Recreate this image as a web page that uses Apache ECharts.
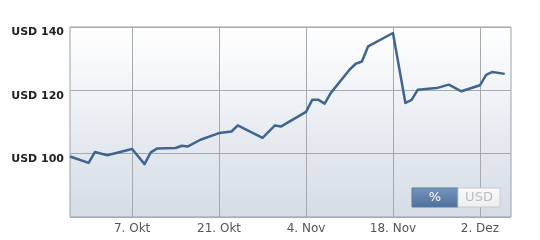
<!DOCTYPE html>
<html>
<head>
<meta charset="utf-8">
<script src="https://cdn.jsdelivr.net/npm/echarts@6/dist/echarts.min.js"></script>
<style>
html,body{margin:0;padding:0;background:#fff;}
#c{width:540px;height:240px;}
</style>
</head>
<body>
<div id="c"></div>
<script>
// Data
var dates = ['2013-09-27','2013-09-30','2013-10-01','2013-10-03','2013-10-07','2013-10-09','2013-10-10','2013-10-11','2013-10-14','2013-10-15','2013-10-16','2013-10-18','2013-10-21','2013-10-23','2013-10-24','2013-10-28','2013-10-30','2013-10-31','2013-11-04','2013-11-05','2013-11-06','2013-11-07','2013-11-08','2013-11-11','2013-11-12','2013-11-13','2013-11-14','2013-11-18','2013-11-20','2013-11-21','2013-11-22','2013-11-25','2013-11-27','2013-11-29','2013-12-02','2013-12-03','2013-12-04','2013-12-06'];
var values = [99.1,97.1,100.5,99.5,101.5,96.7,100.4,101.6,101.8,102.5,102.3,104.4,106.5,107.0,108.9,105.0,108.9,108.6,113.2,117.0,117.0,115.8,119.2,126.5,128.4,129.1,133.9,138.1,116.0,117.0,120.2,120.7,121.8,119.7,121.6,124.9,125.8,125.2];
var tickDates = ['2013-10-07','2013-10-21','2013-11-04','2013-11-18','2013-12-02'];
var tickLabels = ['7. Okt','21. Okt','4. Nov','18. Nov','2. Dez'];
var yTicks = [100, 120, 140];

// calendar-day categories for the x axis (27 Sep .. 7 Dec 2013)
var categories = [];
for (var i = 0; i <= 71; i++) {
  categories.push(new Date(Date.UTC(2013, 8, 27 + i)).toISOString().slice(0, 10));
}
var seriesData = dates.map(function (d, k) { return [d, values[k]]; });

function isTick(index, value) { return tickDates.indexOf(value) >= 0; }

var chart = echarts.init(document.getElementById('c'), null, {renderer: 'canvas'});
chart.setOption({
  animation: false,
  grid: {
    left: 70, right: 29, top: 27, bottom: 23,
    show: true,
    borderColor: '#9ba1a8', borderWidth: 1,
    backgroundColor: {
      type: 'linear', x: 0, y: 0, x2: 0, y2: 1,
      colorStops: [{offset: 0, color: '#ffffff'}, {offset: 1, color: '#d5dce6'}]
    }
  },
  xAxis: {
    type: 'category',
    data: categories,
    boundaryGap: false,
    axisLine: {show: false},
    axisTick: {show: false},
    axisLabel: {
      interval: isTick,
      formatter: function (v) { return tickLabels[tickDates.indexOf(v)]; },
      color: '#555', fontFamily: 'DejaVu Sans', fontSize: 12, margin: 6
    },
    splitLine: {show: true, interval: isTick, lineStyle: {color: '#a6a9ae', width: 1}}
  },
  yAxis: {
    type: 'value',
    min: 80, max: 140, interval: 20,
    axisLine: {show: false},
    axisTick: {show: false},
    axisLabel: {
      formatter: function (v) { return yTicks.indexOf(v) >= 0 ? 'USD ' + v : ''; },
      color: '#222', fontFamily: 'DejaVu Sans', fontWeight: 'bold', fontSize: 11,
      verticalAlign: 'top', margin: 6
    },
    splitLine: {show: true, lineStyle: {color: '#a6a9ae', width: 1}}
  },
  series: [{
    type: 'line',
    data: seriesData,
    symbol: 'none',
    lineStyle: {color: '#3f6591', width: 2.5, join: 'round'},
    z: 3
  }],
  graphic: [
    {
      type: 'rect', z: 10,
      shape: {x: 412, y: 188, width: 46, height: 19},
      style: {
        fill: {type: 'linear', x: 0, y: 0, x2: 0, y2: 1,
          colorStops: [{offset: 0, color: '#7895bb'}, {offset: 1, color: '#4d6f9a'}]},
        stroke: '#5a7aa3', lineWidth: 1
      }
    },
    {
      type: 'text', z: 11,
      x: 435, y: 197.5,
      style: {text: '%', fill: '#ffffff', font: '13px DejaVu Sans', align: 'center', verticalAlign: 'middle'}
    },
    {
      type: 'rect', z: 10,
      shape: {x: 458, y: 188, width: 42, height: 19},
      style: {
        fill: {type: 'linear', x: 0, y: 0, x2: 0, y2: 1,
          colorStops: [{offset: 0, color: '#fafafa'}, {offset: 1, color: '#eeeeee'}]},
        stroke: '#c8cacd', lineWidth: 1
      }
    },
    {
      type: 'text', z: 11,
      x: 479, y: 197.5,
      style: {text: 'USD', fill: '#b9bcc0', font: '13px DejaVu Sans', align: 'center', verticalAlign: 'middle'}
    }
  ]
});
</script>
</body>
</html>
